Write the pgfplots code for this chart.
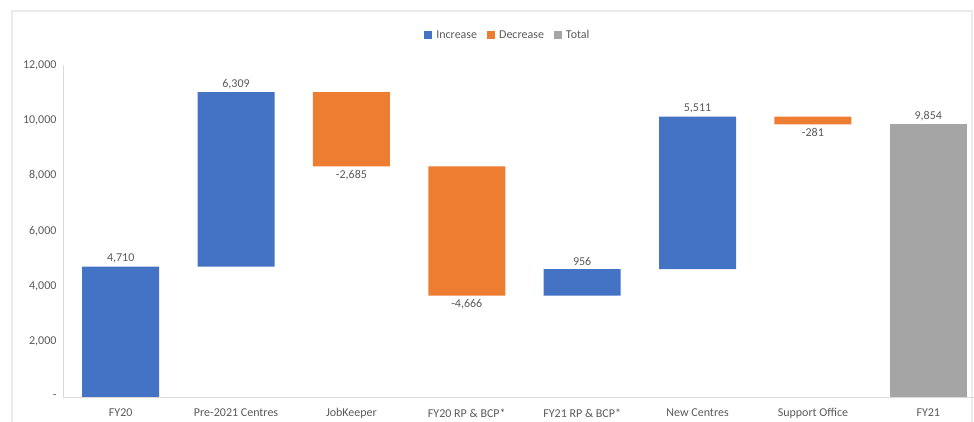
\documentclass[border=0pt]{standalone}
\usepackage{pgfplots}
\pgfplotsset{compat=1.18}
\usepackage{pgfplotstable}
\usepackage{fontspec}
\setmainfont{Carlito}
\definecolor{incC}{HTML}{4472C4}
\definecolor{decC}{HTML}{ED7D31}
\definecolor{totC}{HTML}{A5A5A5}
\definecolor{txtC}{HTML}{595959}
\definecolor{axC}{HTML}{D9D9D9}
\pgfplotstableread{
x base inc dec tot
0 0    4710 0    0
1 4710 6309 0    0
2 8334 0    2685 0
3 3668 0    4666 0
4 3668 956  0    0
5 4624 5511 0    0
6 9854 0    281  0
7 0    0    0    9854
}\wf
\pgfplotsset{common/.style={
  scale only axis, width=923pt, height=332pt,
  xmin=-0.5, xmax=7.5, ymin=0, ymax=12000,
  at={(63pt,25pt)}, anchor=south west,
  /pgf/number format/assume math mode=true,
  font=\fontsize{12}{14}\selectfont,
}}
\begin{document}
\begin{tikzpicture}[x=1pt,y=1pt]
\useasboundingbox (0,0) rectangle (974,422);
\draw[color=black!8, line width=1.2pt] (12,-10) rectangle (972,411);
\begin{axis}[common,
  ybar stacked, bar width=0.667,
  scaled y ticks=false,
  axis x line*=bottom, axis y line*=left,
  axis line style={draw=axC, line width=0.8pt},
  major tick length=0pt,
  xtick={0,...,7},
  xticklabels={FY20,Pre-2021 Centres,JobKeeper,FY20 RP \& BCP*,FY21 RP \& BCP*,New Centres,Support Office,FY21},
  ytick={0,2000,...,12000},
  yticklabels={{-},{2,000},{4,000},{6,000},{8,000},{10,000},{12,000}},
  ticklabel style={text=txtC},
  yticklabel style={xshift=-3pt},
  xticklabel style={yshift=-8pt},
  legend columns=3,
  legend style={draw=none, fill=none, at={(0.482,1.09)}, anchor=center,
    text=txtC, font=\fontsize{12}{14}\selectfont,
    /tikz/every odd column/.append style={column sep=2pt},
    /tikz/every even column/.append style={column sep=8pt}},
]
\addplot[draw=none, fill=none, forget plot] table[x=x,y=base]{\wf};
\addplot[draw=none, fill=incC, legend image code/.code={\fill[incC] (0pt,-4pt) rectangle (8pt,4pt);}] table[x=x,y=inc]{\wf};
\addplot[draw=none, fill=decC, legend image code/.code={\fill[decC] (0pt,-4pt) rectangle (8pt,4pt);}] table[x=x,y=dec]{\wf};
\addplot[draw=none, fill=totC, legend image code/.code={\fill[totC] (0pt,-4pt) rectangle (8pt,4pt);}] table[x=x,y=tot]{\wf};
\legend{Increase,Decrease,Total}
\end{axis}
\begin{axis}[common, hide axis]
\addplot[draw=none, mark=none, only marks, nodes near coords, point meta=explicit symbolic,
  nodes near coords align={above}, every node near coord/.append style={text=txtC, font=\fontsize{12}{14}\selectfont}]
  coordinates {(0,4710)[4,710] (1,11019)[6,309] (4,4624)[956] (5,10135)[5,511] (7,9854)[9,854]};
\addplot[draw=none, mark=none, only marks, nodes near coords, point meta=explicit symbolic,
  nodes near coords align={below}, every node near coord/.append style={text=txtC, font=\fontsize{12}{14}\selectfont}]
  coordinates {(2,8334)[-2,685] (3,3668)[-4,666] (6,9854)[-281]};
\end{axis}
\end{tikzpicture}
\end{document}
